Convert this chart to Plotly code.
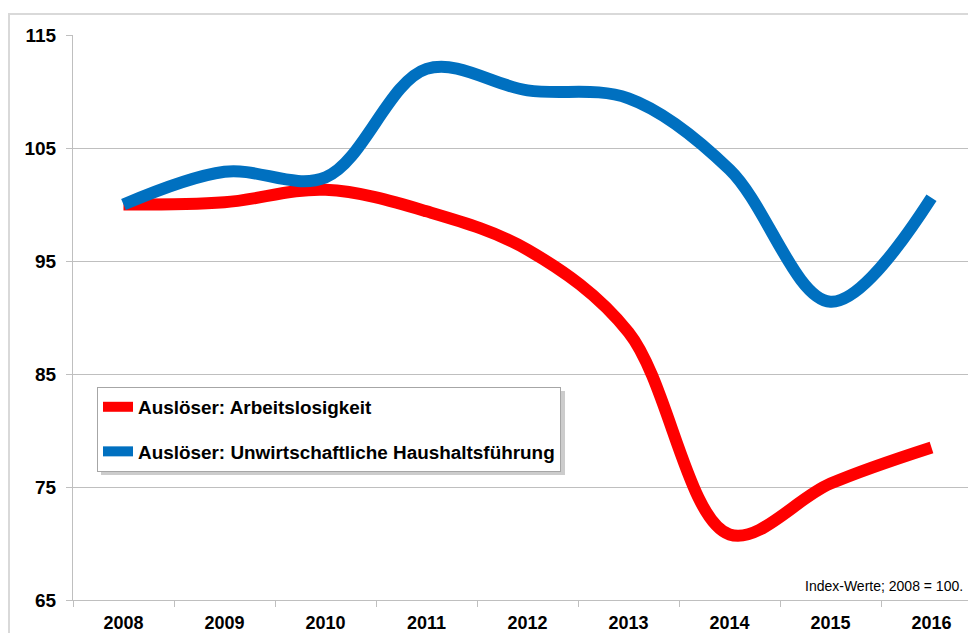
import plotly.graph_objects as go

years = ["2008", "2009", "2010", "2011", "2012", "2013", "2014", "2015", "2016"]
arbeitslosigkeit = [100.0, 100.2, 101.3, 99.4, 96.0, 88.7, 70.8, 75.3, 78.5]
haushalt = [100.0, 102.9, 102.4, 112.0, 110.1, 109.4, 103.1, 91.4, 100.6]
yticks = [65, 75, 85, 95, 105, 115]

# the page body has an 8px margin; size the figure so it fits the 976x641 window
OFF = 8
W, H = 976 - OFF, 641 - 2 * OFF
# desired window pixel positions of plot area
PL, PT, PB, PR = 73, 35, 600, 976
L, T = PL - OFF, PT - OFF
B = H - (PB - OFF)
R = W - (PR - OFF)
pw, ph = W - L - R, H - T - B
cat_px = 101.0

def px_x(x):  # window px -> paper
    return (x - OFF - L) / pw

def px_y(y):
    return (H - B - (y - OFF)) / ph

fig = go.Figure()
fig.add_trace(go.Scatter(
    x=years, y=arbeitslosigkeit, mode="lines", name="Auslöser: Arbeitslosigkeit",
    line=dict(color="#FF0000", width=12, shape="spline", smoothing=1.0),
    legendgroup="a"))
fig.add_trace(go.Scatter(
    x=years, y=haushalt, mode="lines", name="Auslöser: Unwirtschaftliche Haushaltsführung",
    line=dict(color="#0070C0", width=12, shape="spline", smoothing=1.0),
    legendgroup="b"))

shapes = [
    # outer chart border
    dict(type="rect", xref="paper", yref="paper", x0=px_x(9), x1=px_x(1000), y0=px_y(660), y1=px_y(14),
         line=dict(color="#D9D9D9", width=2), fillcolor="rgba(0,0,0,0)", layer="below"),
    # legend shadow
    dict(type="rect", xref="paper", yref="paper", x0=px_x(101), x1=px_x(565), y0=px_y(475), y1=px_y(391),
         line=dict(width=0), fillcolor="rgba(0,0,0,0.2)", layer="above"),
]

fig.update_layout(
    width=W, height=H,
    margin=dict(l=L, r=R, t=T, b=B, pad=0),
    paper_bgcolor="white", plot_bgcolor="white",
    font=dict(family="Arial, Liberation Sans", color="black"),
    showlegend=True,
    legend=dict(x=px_x(97), y=px_y(387), xanchor="left", yanchor="top",
                bgcolor="white", bordercolor="#A6A6A6", borderwidth=1,
                font=dict(size=18.9, weight="bold", family="Arial, Liberation Sans"),
                tracegroupgap=17, itemwidth=30),
    shapes=shapes,
    annotations=[dict(text="Index-Werte; 2008 = 100.", xref="paper", yref="paper",
                      x=px_x(965), y=px_y(586), xanchor="right", yanchor="middle", showarrow=False,
                      font=dict(size=14, family="Arial, Liberation Sans", color="black"))],
)
fig.update_xaxes(
    type="category", range=[-0.5, -0.5 + pw / cat_px],
    showgrid=False, showline=True, linecolor="#BFBFBF", linewidth=1,
    ticks="outside", ticklen=6, tickcolor="#BFBFBF", tickson="boundaries",
    ticklabelstandoff=6,
    tickfont=dict(size=18, weight="bold"), zeroline=False)
fig.update_yaxes(
    range=[65, 115], tickvals=yticks, showgrid=True, gridcolor="#BFBFBF", gridwidth=1,
    showline=True, linecolor="#BFBFBF", linewidth=1,
    ticks="outside", ticklen=6, tickcolor="#BFBFBF", ticklabelstandoff=6,
    tickfont=dict(size=19, weight="bold"), zeroline=False)

fig.write_html("out.html")
